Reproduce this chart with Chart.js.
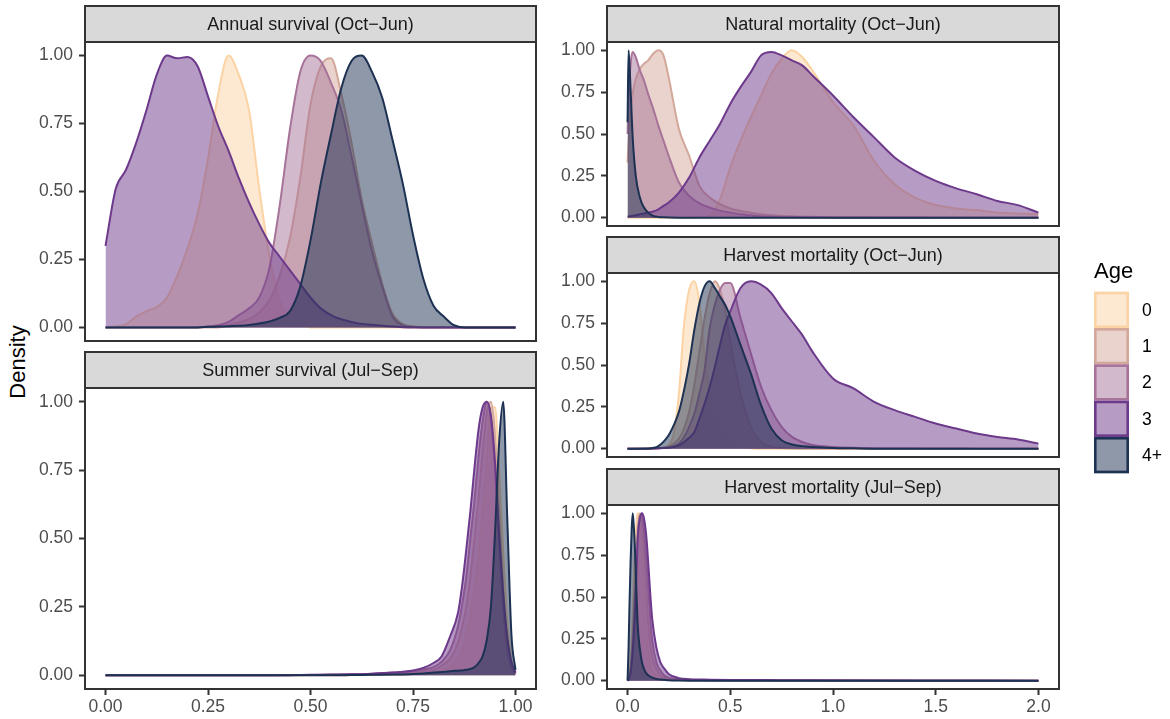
<!DOCTYPE html>
<html>
<head>
<meta charset="utf-8">
<script src="https://cdn.jsdelivr.net/npm/chart.js@4"></script>
<style>
  body { margin: 0; background: #fff; }
  #page { position: relative; width: 1170px; height: 719px; overflow: hidden; font-family: "Liberation Sans", Arial, sans-serif; }
  canvas { position: absolute; }
  #ytitle { position: absolute; left: 18px; top: 362px; transform: translate(-50%, -50%) rotate(-90deg); font-size: 22px; color: #000; white-space: nowrap; }
</style>
</head>
<body>
<div id="page">
  <div id="ytitle">Density</div>
  <canvas id="annual" width="514" height="357" style="left:25px;top:4px"></canvas>
  <canvas id="summer" width="514" height="369" style="left:25px;top:350px"></canvas>
  <canvas id="natural" width="515" height="242" style="left:547px;top:4px"></canvas>
  <canvas id="harvestOJ" width="623" height="245" style="left:547px;top:235px"></canvas>
  <canvas id="harvestJS" width="515" height="252" style="left:547px;top:467px"></canvas>
</div>
<script>
const ages = ['0', '1', '2', '3', '4+'];
const colors = ['#FBD3A5', '#D3A799', '#A77399', '#6D398B', '#1D3153'];
const densityTicks = [0, 0.25, 0.5, 0.75, 1];
const survivalTicks = [0, 0.25, 0.5, 0.75, 1];
const mortalityTicks = [0, 0.5, 1, 1.5, 2];

// Annual survival (Oct-Jun)
const annualX = [0, 0.025, 0.05, 0.075, 0.1, 0.125, 0.15, 0.175, 0.2, 0.225, 0.25, 0.275, 0.3, 0.325, 0.35, 0.375, 0.4, 0.425, 0.45, 0.475, 0.5, 0.525, 0.55, 0.575, 0.6, 0.625, 0.65, 0.675, 0.7, 0.725, 0.75, 0.775, 0.8, 0.825, 0.85, 0.875, 0.9, 0.925, 0.95, 0.975, 1];
const annual0 = [0, 0.003, 0.012, 0.04, 0.06, 0.075, 0.11, 0.19, 0.29, 0.42, 0.62, 0.86, 1.0, 0.93, 0.8, 0.51, 0.26, 0.1, 0.03, 0.01, 0, 0, 0, 0, 0, 0, 0, 0, 0, 0, 0, 0, 0, 0, 0, 0, 0, 0, 0, 0, 0];
const annual1 = [0, 0, 0, 0, 0, 0, 0, 0, 0, 0, 0, 0, 0.01, 0.018, 0.03, 0.055, 0.1, 0.19, 0.33, 0.55, 0.82, 0.96, 0.99, 0.86, 0.68, 0.47, 0.31, 0.16, 0.05, 0.012, 0.003, 0, 0, 0, 0, 0, 0, 0, 0, 0, 0];
const annual2 = [0, 0, 0, 0, 0, 0, 0, 0, 0, 0, 0.003, 0.008, 0.02, 0.045, 0.07, 0.11, 0.22, 0.45, 0.73, 0.94, 1.0, 0.98, 0.9, 0.8, 0.63, 0.45, 0.28, 0.15, 0.04, 0.008, 0.002, 0, 0, 0, 0, 0, 0, 0, 0, 0, 0];
const annual3 = [0.3, 0.51, 0.58, 0.68, 0.8, 0.93, 1.0, 0.99, 0.995, 0.96, 0.85, 0.74, 0.65, 0.55, 0.46, 0.38, 0.31, 0.26, 0.21, 0.16, 0.11, 0.07, 0.045, 0.03, 0.02, 0.013, 0.01, 0.006, 0.003, 0.001, 0, 0, 0, 0, 0, 0, 0, 0, 0, 0, 0];
const annual4 = [0, 0, 0, 0, 0, 0, 0, 0, 0, 0, 0.002, 0.003, 0.004, 0.006, 0.009, 0.014, 0.022, 0.035, 0.06, 0.15, 0.32, 0.53, 0.71, 0.88, 0.98, 1.0, 0.94, 0.845, 0.69, 0.53, 0.34, 0.18, 0.08, 0.04, 0.008, 0, 0, 0, 0, 0, 0];

// Summer survival (Jul-Sep)
const summerX = [0, 0.1, 0.2, 0.3, 0.4, 0.5, 0.55, 0.6, 0.65, 0.7, 0.75, 0.775, 0.8, 0.82, 0.84, 0.86, 0.87, 0.88, 0.89, 0.9, 0.91, 0.92, 0.93, 0.94, 0.95, 0.96, 0.97, 0.98, 0.99, 1];
const summer0 = [0, 0, 0, 0, 0, 0, 0, 0.001, 0.002, 0.003, 0.005, 0.007, 0.01, 0.018, 0.03, 0.06, 0.09, 0.15, 0.22, 0.32, 0.44, 0.6, 0.78, 0.98, 0.98, 0.75, 0.45, 0.2, 0.06, 0.01];
const summer1 = [0, 0, 0, 0, 0, 0.001, 0.002, 0.003, 0.005, 0.008, 0.012, 0.016, 0.02, 0.035, 0.06, 0.12, 0.18, 0.25, 0.36, 0.5, 0.65, 0.82, 0.96, 1.0, 0.88, 0.6, 0.32, 0.13, 0.04, 0.01];
const summer2 = [0, 0, 0, 0, 0, 0.001, 0.002, 0.004, 0.006, 0.01, 0.015, 0.022, 0.03, 0.05, 0.09, 0.18, 0.26, 0.36, 0.5, 0.64, 0.8, 0.93, 1.0, 0.94, 0.75, 0.48, 0.24, 0.09, 0.03, 0.005];
const summer3 = [0, 0, 0, 0, 0, 0.002, 0.003, 0.004, 0.006, 0.01, 0.018, 0.027, 0.045, 0.07, 0.14, 0.23, 0.33, 0.46, 0.6, 0.76, 0.9, 0.98, 1.0, 0.95, 0.78, 0.52, 0.3, 0.14, 0.05, 0.01];
const summer4 = [0, 0, 0, 0, 0, 0, 0, 0.001, 0.002, 0.003, 0.005, 0.007, 0.01, 0.012, 0.015, 0.017, 0.018, 0.02, 0.023, 0.03, 0.045, 0.07, 0.13, 0.25, 0.52, 0.85, 1.0, 0.57, 0.15, 0.02];

// Natural mortality (Oct-Jun)
const naturalX = [0, 0.005, 0.015, 0.025, 0.04, 0.06, 0.08, 0.1, 0.125, 0.15, 0.175, 0.2, 0.25, 0.3, 0.35, 0.4, 0.45, 0.5, 0.55, 0.6, 0.65, 0.7, 0.75, 0.8, 0.85, 0.9, 1.0, 1.1, 1.2, 1.3, 1.4, 1.5, 1.6, 1.7, 1.8, 1.9, 2.0];
const natural0 = [0, 0, 0, 0, 0, 0, 0, 0, 0, 0, 0, 0, 0, 0.001, 0.003, 0.012, 0.11, 0.3, 0.46, 0.6, 0.73, 0.86, 0.95, 1.0, 0.96, 0.88, 0.69, 0.55, 0.34, 0.2, 0.12, 0.075, 0.055, 0.045, 0.03, 0.025, 0.02];
const natural1 = [0.33, 0.45, 0.62, 0.74, 0.83, 0.89, 0.92, 0.94, 0.98, 1.0, 0.97, 0.84, 0.53, 0.37, 0.19, 0.12, 0.08, 0.055, 0.04, 0.03, 0.02, 0.015, 0.01, 0.008, 0.006, 0.005, 0.003, 0.002, 0.002, 0.001, 0.001, 0, 0, 0, 0, 0, 0];
const natural2 = [0.5, 0.7, 0.92, 0.99, 0.96, 0.88, 0.82, 0.74, 0.65, 0.55, 0.46, 0.37, 0.21, 0.13, 0.085, 0.06, 0.042, 0.03, 0.02, 0.014, 0.008, 0.005, 0.003, 0.002, 0.001, 0.001, 0, 0, 0, 0, 0, 0, 0, 0, 0, 0, 0];
const natural3 = [0.006, 0.007, 0.009, 0.011, 0.014, 0.02, 0.025, 0.03, 0.037, 0.05, 0.07, 0.09, 0.15, 0.24, 0.36, 0.46, 0.56, 0.68, 0.78, 0.87, 0.97, 0.99, 0.97, 0.94, 0.91, 0.85, 0.73, 0.6, 0.48, 0.36, 0.28, 0.22, 0.175, 0.14, 0.1, 0.075, 0.03];
const natural4 = [0.57, 1.0, 0.76, 0.48, 0.25, 0.12, 0.06, 0.03, 0.01, 0.004, 0.002, 0.001, 0, 0, 0, 0, 0, 0, 0, 0, 0, 0, 0, 0, 0, 0, 0, 0, 0, 0, 0, 0, 0, 0, 0, 0, 0];

// Harvest mortality (Oct-Jun)
const harvestOJX = [0, 0.1, 0.15, 0.2, 0.225, 0.25, 0.275, 0.3, 0.325, 0.35, 0.375, 0.4, 0.425, 0.45, 0.475, 0.5, 0.55, 0.6, 0.65, 0.7, 0.75, 0.8, 0.85, 0.9, 1.0, 1.1, 1.2, 1.3, 1.4, 1.5, 1.6, 1.7, 1.8, 1.9, 2.0];
const harvestOJ0 = [0, 0, 0.002, 0.02, 0.09, 0.33, 0.74, 0.95, 1.0, 0.87, 0.55, 0.34, 0.2, 0.12, 0.065, 0.035, 0.012, 0.003, 0, 0, 0, 0, 0, 0, 0, 0, 0, 0, 0, 0, 0, 0, 0, 0, 0];
const harvestOJ1 = [0, 0, 0.003, 0.012, 0.03, 0.06, 0.12, 0.22, 0.38, 0.58, 0.78, 0.93, 1.0, 0.95, 0.82, 0.64, 0.33, 0.13, 0.04, 0.012, 0.004, 0.001, 0, 0, 0, 0, 0, 0, 0, 0, 0, 0, 0, 0, 0];
const harvestOJ2 = [0, 0, 0.002, 0.008, 0.015, 0.03, 0.07, 0.13, 0.21, 0.33, 0.47, 0.72, 0.86, 0.95, 0.99, 0.99, 0.78, 0.57, 0.37, 0.23, 0.13, 0.07, 0.04, 0.022, 0.01, 0.005, 0.003, 0.002, 0.002, 0.001, 0.001, 0, 0, 0, 0];
const harvestOJ3 = [0, 0, 0.002, 0.006, 0.01, 0.02, 0.04, 0.065, 0.1, 0.18, 0.27, 0.37, 0.49, 0.62, 0.74, 0.82, 0.96, 1.0, 0.98, 0.93, 0.84, 0.76, 0.68, 0.58, 0.42, 0.36, 0.28, 0.23, 0.19, 0.15, 0.12, 0.09, 0.07, 0.055, 0.03];
const harvestOJ4 = [0, 0.001, 0.015, 0.08, 0.14, 0.22, 0.35, 0.51, 0.71, 0.87, 0.97, 1.0, 0.96, 0.91, 0.86, 0.79, 0.62, 0.45, 0.26, 0.12, 0.05, 0.025, 0.015, 0.01, 0.004, 0.002, 0, 0, 0, 0, 0, 0, 0, 0, 0];

// Harvest mortality (Jul-Sep)
const harvestJSX = [0, 0.005, 0.01, 0.015, 0.02, 0.025, 0.03, 0.035, 0.04, 0.045, 0.05, 0.06, 0.07, 0.08, 0.09, 0.1, 0.11, 0.12, 0.14, 0.16, 0.18, 0.2, 0.25, 0.3, 0.4, 0.5, 0.75, 1.0, 1.5, 2.0];
const harvestJS0 = [0, 0.01, 0.05, 0.12, 0.25, 0.4, 0.58, 0.75, 0.88, 0.97, 1.0, 0.92, 0.74, 0.55, 0.3, 0.16, 0.09, 0.06, 0.03, 0.02, 0.012, 0.008, 0.004, 0.002, 0.001, 0, 0, 0, 0, 0];
const harvestJS1 = [0, 0.008, 0.03, 0.08, 0.16, 0.28, 0.42, 0.58, 0.72, 0.84, 0.93, 1.0, 0.93, 0.78, 0.58, 0.36, 0.22, 0.14, 0.07, 0.035, 0.02, 0.012, 0.006, 0.004, 0.002, 0.001, 0.001, 0, 0, 0];
const harvestJS2 = [0, 0.006, 0.02, 0.06, 0.12, 0.21, 0.33, 0.47, 0.61, 0.75, 0.86, 0.98, 0.99, 0.9, 0.75, 0.57, 0.38, 0.24, 0.11, 0.06, 0.03, 0.018, 0.008, 0.005, 0.003, 0.002, 0.001, 0, 0, 0];
const harvestJS3 = [0, 0.006, 0.02, 0.05, 0.1, 0.17, 0.26, 0.38, 0.52, 0.7, 0.86, 0.97, 1.0, 0.97, 0.88, 0.72, 0.53, 0.37, 0.2, 0.11, 0.07, 0.04, 0.015, 0.009, 0.006, 0.004, 0.003, 0.002, 0.001, 0];
const harvestJS4 = [0, 0.2, 0.48, 0.72, 0.9, 1.0, 0.93, 0.82, 0.65, 0.47, 0.32, 0.19, 0.11, 0.07, 0.045, 0.032, 0.024, 0.018, 0.01, 0.007, 0.005, 0.003, 0.001, 0, 0, 0, 0, 0, 0, 0];

const FONT = '"Liberation Sans", Arial, sans-serif';

function fade(hex, a) {
  const n = parseInt(hex.slice(1), 16);
  return `rgba(${n >> 16}, ${(n >> 8) & 255}, ${n & 255}, ${a})`;
}

function makeDatasets(xs, series) {
  return series.map((ys, i) => ({
    label: ages[i],
    data: xs.map((x, j) => ({ x: x, y: ys[j] })),
    borderColor: colors[i],
    backgroundColor: fade(colors[i], 0.5),
    borderWidth: 2,
    fill: 'origin',
    pointRadius: 0,
    cubicInterpolationMode: 'monotone',
    // ggplot draws age 0 first, 4+ last (on top)
    order: ages.length - i
  }));
}

// strip on top of the panel and the panel border
const panelFrame = {
  id: 'panelFrame',
  afterDraw(chart, args, opts) {
    const { ctx, chartArea: a } = chart;
    const w = a.right - a.left;
    const top = a.top - opts.stripHeight;
    ctx.save();
    ctx.lineWidth = 2;
    ctx.strokeStyle = '#333333';
    ctx.fillStyle = '#D9D9D9';
    ctx.fillRect(a.left, top, w, opts.stripHeight);
    ctx.strokeRect(a.left, top, w, opts.stripHeight);
    ctx.fillStyle = '#1A1A1A';
    ctx.font = `18px ${FONT}`;
    ctx.textAlign = 'center';
    ctx.textBaseline = 'middle';
    ctx.fillText(opts.title, (a.left + a.right) / 2, top + opts.stripHeight / 2 + 1);
    ctx.strokeRect(a.left, a.top, w, a.bottom - a.top);
    ctx.restore();
  }
};

// "Age" legend, drawn right of one panel from its datasets
const ageKey = {
  id: 'ageKey',
  afterDraw(chart, args, opts) {
    if (!opts.show) return;
    const { ctx, chartArea: a } = chart;
    const keyW = 35, keyH = 36.3, titleH = 35;
    const left = a.right + 35;
    const mid = (a.top + a.bottom) / 2;
    const top = mid - (titleH + keyH * ages.length) / 2;
    ctx.save();
    ctx.fillStyle = '#000';
    ctx.font = `22px ${FONT}`;
    ctx.textAlign = 'left';
    ctx.textBaseline = 'alphabetic';
    ctx.fillText('Age', left, top + 21);
    ctx.font = `17.5px ${FONT}`;
    ctx.textBaseline = 'middle';
    const sets = chart.data.datasets;
    sets.forEach((ds, i) => {
      const y = top + titleH + i * keyH;
      ctx.fillStyle = '#fff';
      ctx.fillRect(left, y, keyW, keyH);
      ctx.fillStyle = ds.backgroundColor;
      ctx.fillRect(left, y, keyW, keyH);
      ctx.lineWidth = 2.6;
      ctx.strokeStyle = ds.borderColor;
      ctx.strokeRect(left + 1.3, y + 1.3, keyW - 2.6, keyH - 2.6);
      ctx.fillStyle = '#000';
      ctx.fillText(ds.label, left + keyW + 13, y + keyH / 2 + 1);
    });
    ctx.restore();
  }
};

function makePanel(id, opt) {
  const tickFont = { family: FONT, size: 17.5 };
  const tickGrid = { drawOnChartArea: false, drawTicks: true, tickLength: 6, tickColor: '#333333', tickWidth: 2 };
  return new Chart(document.getElementById(id), {
    type: 'line',
    data: { datasets: makeDatasets(opt.xs, opt.series) },
    plugins: [panelFrame, ageKey],
    options: {
      responsive: false,
      animation: false,
      events: [],
      layout: { padding: { top: 38, right: opt.padRight, bottom: opt.padBottom, left: 0 } },
      plugins: {
        legend: { display: false },
        tooltip: { enabled: false },
        panelFrame: { title: opt.title, stripHeight: 36 },
        ageKey: { show: !!opt.legend }
      },
      scales: {
        x: {
          type: 'linear',
          min: opt.xMin,
          max: opt.xMax,
          display: opt.showX,
          afterBuildTicks: s => { s.ticks = opt.xTicks.map(v => ({ value: v })); },
          afterFit: s => { s.height = opt.showX ? 30 : 0; },
          ticks: { callback: v => v.toFixed(opt.xDigits), color: '#4D4D4D', font: tickFont, padding: 2, maxRotation: 0, autoSkip: false },
          grid: tickGrid,
          border: { display: false }
        },
        y: {
          type: 'linear',
          min: -0.05,
          max: 1.05,
          afterBuildTicks: s => { s.ticks = densityTicks.map(v => ({ value: v })); },
          afterFit: s => { s.width = 60; },
          ticks: { callback: v => v.toFixed(2), color: '#4D4D4D', font: tickFont, padding: 6 },
          grid: tickGrid,
          border: { display: false }
        }
      }
    }
  });
}

makePanel('annual', {
  title: 'Annual survival (Oct\u2212Jun)', xs: annualX,
  series: [annual0, annual1, annual2, annual3, annual4],
  xMin: -0.05, xMax: 1.05, xTicks: survivalTicks, xDigits: 2, showX: false, padRight: 3, padBottom: 20
});
makePanel('summer', {
  title: 'Summer survival (Jul\u2212Sep)', xs: summerX,
  series: [summer0, summer1, summer2, summer3, summer4],
  xMin: -0.05, xMax: 1.05, xTicks: survivalTicks, xDigits: 2, showX: true, padRight: 3, padBottom: 0
});
makePanel('natural', {
  title: 'Natural mortality (Oct\u2212Jun)', xs: naturalX,
  series: [natural0, natural1, natural2, natural3, natural4],
  xMin: -0.1, xMax: 2.1, xTicks: mortalityTicks, xDigits: 1, showX: false, padRight: 3, padBottom: 20
});
makePanel('harvestOJ', {
  title: 'Harvest mortality (Oct\u2212Jun)', xs: harvestOJX,
  series: [harvestOJ0, harvestOJ1, harvestOJ2, harvestOJ3, harvestOJ4],
  xMin: -0.1, xMax: 2.1, xTicks: mortalityTicks, xDigits: 1, showX: false, padRight: 111, padBottom: 23, legend: true
});
makePanel('harvestJS', {
  title: 'Harvest mortality (Jul\u2212Sep)', xs: harvestJSX,
  series: [harvestJS0, harvestJS1, harvestJS2, harvestJS3, harvestJS4],
  xMin: -0.1, xMax: 2.1, xTicks: mortalityTicks, xDigits: 1, showX: true, padRight: 3, padBottom: 0
});
</script>
</body>
</html>
